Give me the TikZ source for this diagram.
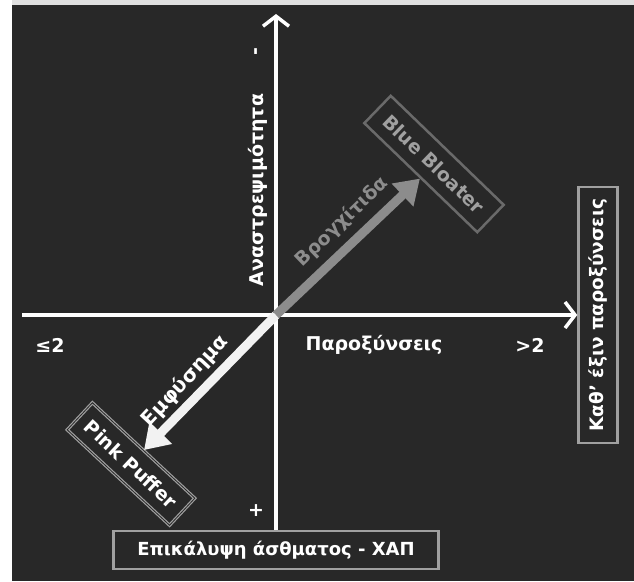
\documentclass[tikz,border=0pt]{standalone}
\usepackage{fontspec}
\setmainfont{DejaVu Sans}
\usetikzlibrary{arrows.meta,positioning}
\definecolor{bgdark}{HTML}{282828}
\definecolor{boxgray}{HTML}{A0A0A0}
\definecolor{darkbox}{HTML}{6A6A6A}

\begin{document}
\begin{tikzpicture}[x=1pt,y=-1pt]
	\tikzstyle{Label}	= [text=white, font=\bfseries\fontsize{19}{21}\selectfont, inner sep=0pt]
	\tikzstyle{Box}		= [draw=boxgray, line width=2.5pt, inner sep=4pt]
	\tikzstyle{Axis}	= [white, line width=3.5pt, -{Straight Barb[length=10pt,width=26pt]}]
	\tikzstyle{Thick}	= [line width=9pt, -{Triangle[length=24pt,width=30pt]}]

	% page and dark panel
	\fill [white] (0,0) rectangle (634,581);
	\fill [black!12] (12,0) rectangle (634,5);
	\fill [bgdark] (12,5) rectangle (634,581);

	% boxes
	\node (epik) at (276,550) [Box][Label, font=\bfseries\fontsize{18}{20}\selectfont, minimum width=325pt, minimum height=38pt] {Επικάλυψη άσθματος - ΧΑΠ};
	\node (kath) at (598,315) [Box][Label, rotate=90, font=\bfseries\fontsize{18.5}{20}\selectfont, minimum width=256pt, minimum height=39pt] {Καθ’ έξιν παροξύνσεις};
	\node (blue) at (434,164) [Box][Label, rotate=-44, draw=darkbox, text=boxgray, minimum width=157pt, minimum height=38pt] {Blue Bloater};
	\node (pink) at (131,464) [Box][Label, rotate=-43, double=bgdark, double distance=0.8pt, line width=1.2pt, minimum width=140pt, minimum height=37pt] {Pink Puffer};

	% axes
	\coordinate (top) at (276,14);
	\coordinate (left) at (22,315);
	\coordinate (o) at (276,315);
	\draw [Axis] (epik.north) to (top);
	\draw [Axis] (left) to (kath.north);

	% axis labels
	\node (minus) at (258,52) [Label, rotate=90] {-};
	\node (plus) at (256,511) [Label] {+};
	\node (anastr) at (258,190) [Label, rotate=90] {Αναστρεψιμότητα};
	\node (le) at (50,345) [Label] {≤2};
	\node (parox) at (374,345) [Label] {Παροξύνσεις};
	\node (gt) at (530,345) [Label] {>2};

	% phenotypes
	\draw [Thick, white!90!gray] (o) to (pink.north);
	\draw [Thick, gray!90!white] (o) to (blue.south);
	\node (bronch) at (342,222) [Label, rotate=44, text=gray!90!white] {Βρογχίτιδα};
	\node (emph) at (185,381) [Label, rotate=47, font=\bfseries\fontsize{20}{22}\selectfont] {Εμφύσημα};
\end{tikzpicture}
\end{document}
